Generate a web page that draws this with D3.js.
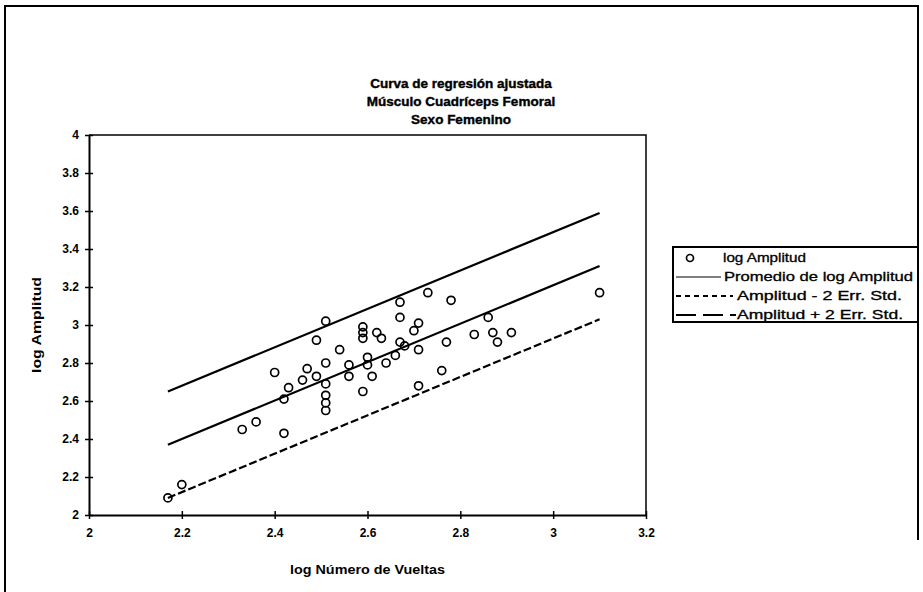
<!DOCTYPE html>
<html>
<head>
<meta charset="utf-8">
<script src="https://cdn.jsdelivr.net/npm/d3@7"></script>
<style>
  html, body { margin: 0; padding: 0; background: #fff; }
  svg { display: block; }
  text { font-family: "Liberation Sans", Arial, sans-serif; fill: #000; }
</style>
</head>
<body>
<svg id="chart" width="923" height="592"></svg>
<script>
// Observed values: log number of turns vs log amplitude
const logVueltas = [2.17, 2.20, 2.33, 2.36, 2.42, 2.40, 2.42, 2.43, 2.46, 2.47,
  2.49, 2.49, 2.51, 2.51, 2.51, 2.51, 2.51, 2.51, 2.54, 2.56,
  2.56, 2.59, 2.59, 2.59, 2.59, 2.60, 2.60, 2.61, 2.62, 2.63,
  2.64, 2.66, 2.67, 2.68, 2.67, 2.67, 2.70, 2.71, 2.71, 2.71,
  2.73, 2.76, 2.77, 2.78, 2.83, 2.86, 2.87, 2.88, 2.91, 3.10];
const logAmplitud = [2.09, 2.16, 2.45, 2.49, 2.43, 2.75, 2.61, 2.67, 2.71, 2.77,
  2.92, 2.73, 3.02, 2.80, 2.69, 2.63, 2.59, 2.55, 2.87, 2.73,
  2.79, 2.65, 2.93, 2.96, 2.99, 2.83, 2.79, 2.73, 2.96, 2.93,
  2.80, 2.84, 2.91, 2.89, 3.04, 3.12, 2.97, 3.01, 2.87, 2.68,
  3.17, 2.76, 2.91, 3.13, 2.95, 3.04, 2.96, 2.91, 2.96, 3.17];

// Fitted regression line and +/- 2 standard error bands (endpoints)
const lineX = [2.17, 3.10];
const promedio = [2.37, 3.31];
const menos2EE = [2.09, 3.03];
const mas2EE = [2.65, 3.59];

// Axis ticks
const xTicks = [2, 2.2, 2.4, 2.6, 2.8, 3, 3.2];
const yTicks = [2, 2.2, 2.4, 2.6, 2.8, 3, 3.2, 3.4, 3.6, 3.8, 4];

const titleLines = ["Curva de regresión ajustada", "Músculo Cuadríceps Femoral", "Sexo Femenino"];
const legendLabels = ["log Amplitud", "Promedio de log Amplitud", "Amplitud - 2 Err. Std.", "Amplitud + 2 Err. Std."];

const svg = d3.select("#chart");

// Outer chart frame
svg.append("path")
  .attr("d", "M5,600 L5,6 L918,6 L918,540")
  .attr("fill", "none").attr("stroke", "#000").attr("stroke-width", 2);

const x = d3.scaleLinear().domain([2, 3.2]).range([89, 646]);
const y = d3.scaleLinear().domain([2, 4]).range([515, 135]);

// Plot area frame (top and right edges)
svg.append("path")
  .attr("d", `M${x(2)},${y(4)} L${x(3.2)},${y(4)} L${x(3.2)},${y(2)}`)
  .attr("fill", "none").attr("stroke", "#000").attr("stroke-width", 1.5);

// Title
svg.append("g").selectAll("text").data(titleLines).join("text")
  .attr("x", 461).attr("y", (d, i) => 88 + i * 18)
  .attr("text-anchor", "middle")
  .style("font-size", "13.5px").style("font-weight", "bold")
  .attr("stroke", "#000").attr("stroke-width", 0.4)
  .text(d => d);

// Axes
const fmt = d => d3.format("~g")(d);
const gx = svg.append("g").attr("transform", `translate(0,${y(2)})`)
  .call(d3.axisBottom(x).tickValues(xTicks).tickFormat(fmt).tickSizeInner(4).tickSizeOuter(0).tickPadding(9));
gx.select(".domain").attr("stroke-width", 2);
gx.selectAll(".tick line").attr("y1", -4).attr("stroke-width", 1.5);
gx.selectAll(".tick text").style("font-size", "12px").style("font-weight", "bold")
  .style("font-family", "'Liberation Sans', Arial, sans-serif");

const gy = svg.append("g").attr("transform", `translate(${x(2)},0)`)
  .call(d3.axisLeft(y).tickValues(yTicks).tickFormat(fmt).tickSizeInner(4).tickSizeOuter(0).tickPadding(6));
gy.select(".domain").attr("stroke-width", 2);
gy.selectAll(".tick line").attr("x1", 4).attr("stroke-width", 1.5);
gy.selectAll(".tick text").style("font-size", "12px").style("font-weight", "bold")
  .style("font-family", "'Liberation Sans', Arial, sans-serif");

// Axis titles
svg.append("text").attr("x", (x(2) + x(3.2)) / 2).attr("y", 574)
  .attr("text-anchor", "middle").style("font-size", "12px").style("font-weight", "bold")
  .attr("textLength", 155).attr("lengthAdjust", "spacingAndGlyphs")
  .text("log Número de Vueltas");
svg.append("text").attr("transform", `translate(41,${(y(2) + y(4)) / 2}) rotate(-90)`)
  .attr("text-anchor", "middle").style("font-size", "12px").style("font-weight", "bold")
  .attr("textLength", 96).attr("lengthAdjust", "spacingAndGlyphs")
  .text("log Amplitud");

// Regression lines
const line = d3.line().x(d => x(d[0])).y(d => y(d[1]));
const series = [
  { vals: promedio, dash: null },
  { vals: menos2EE, dash: "8,3" },
  { vals: mas2EE, dash: null }
];
svg.append("g").selectAll("path").data(series).join("path")
  .attr("d", s => line(lineX.map((xv, i) => [xv, s.vals[i]])))
  .attr("fill", "none").attr("stroke", "#000").attr("stroke-width", 2.2)
  .attr("stroke-dasharray", s => s.dash);

// Observed points
svg.append("g").selectAll("circle").data(logVueltas.map((v, i) => [v, logAmplitud[i]])).join("circle")
  .attr("cx", d => x(d[0])).attr("cy", d => y(d[1])).attr("r", 4)
  .attr("fill", "none").attr("stroke", "#000").attr("stroke-width", 1.7);

// Legend
const lg = svg.append("g");
lg.append("rect").attr("x", 673).attr("y", 247).attr("width", 245).attr("height", 75)
  .attr("fill", "#fff").attr("stroke", "#000").attr("stroke-width", 2);
const rowY = i => 258 + i * 19;
lg.append("circle").attr("cx", 690).attr("cy", rowY(0)).attr("r", 3.5)
  .attr("fill", "none").attr("stroke", "#000").attr("stroke-width", 1.7);
const legendLines = [
  { row: 1, x2: 721, dash: null },
  { row: 2, x2: 733, dash: "5,4" },
  { row: 3, x2: 736, dash: "20,7" }
];
lg.selectAll("line").data(legendLines).join("line")
  .attr("x1", 676).attr("x2", d => d.x2)
  .attr("y1", d => rowY(d.row)).attr("y2", d => rowY(d.row))
  .attr("stroke", "#000").attr("stroke-width", d => d.row === 1 ? 1.2 : 1.8)
  .attr("stroke-dasharray", d => d.dash);
const legendX = [723, 724, 737, 737];
const legendW = [83, 189, 165, 166];
lg.selectAll("text").data(legendLabels).join("text")
  .attr("x", (d, i) => legendX[i]).attr("y", (d, i) => rowY(i) + 4)
  .attr("textLength", (d, i) => legendW[i]).attr("lengthAdjust", "spacingAndGlyphs")
  .attr("stroke", "#000").attr("stroke-width", 0.3)
  .style("font-size", "12px")
  .text(d => d);
</script>
</body>
</html>
